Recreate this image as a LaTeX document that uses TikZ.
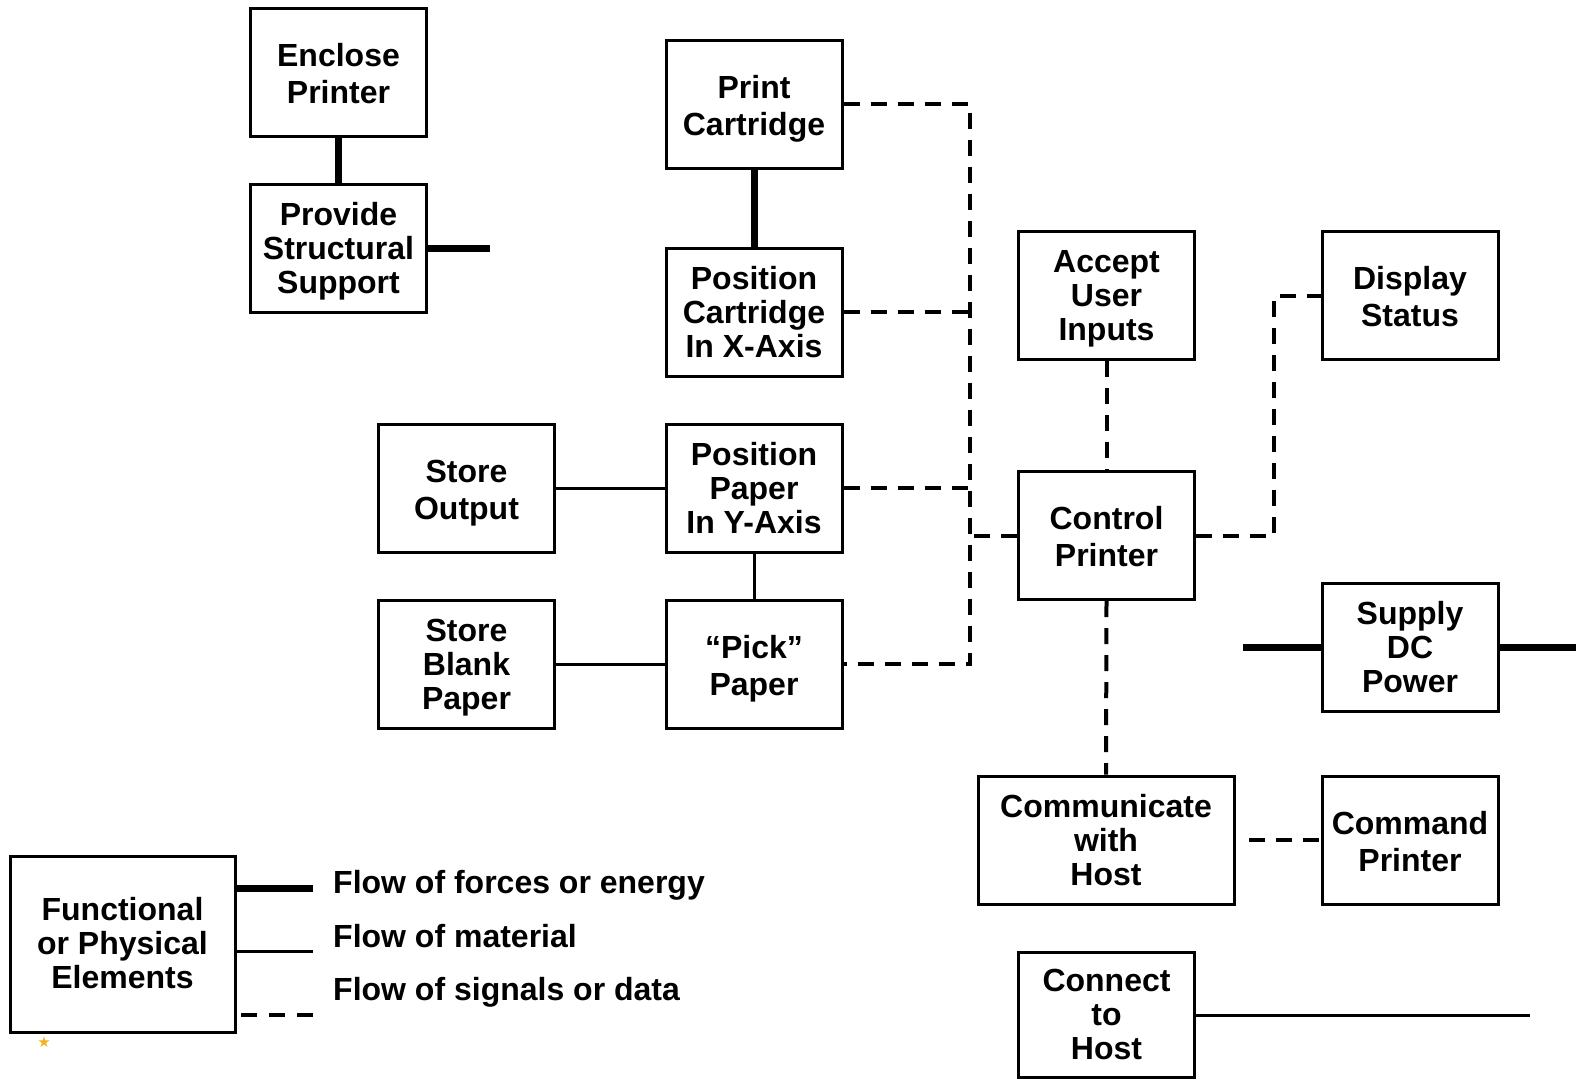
\documentclass[tikz,border=0pt]{standalone}
\usepackage{fontspec}
\setmainfont{Liberation Sans}
\newfontfamily\symfont{DejaVu Sans}
\definecolor{stargold}{RGB}{245,180,30}
\begin{document}
\begin{tikzpicture}[x=1pt,y=-1pt,
  fbox/.style={draw,line width=3pt,inner sep=0pt,align=center,
    minimum width=176pt,minimum height=128pt,
    font=\fontsize{32}{34}\selectfont\bfseries,
    text height=97pt,text depth=7pt},
  two/.style={font=\fontsize{32}{37}\selectfont\bfseries,
    text height=69pt,text depth=7pt},
  energy/.style={line width=7pt},
  material/.style={line width=3pt},
  sig/.style={line width=4pt,dash pattern=on 16pt off 11pt},
  legtext/.style={anchor=west,inner sep=0pt,font=\fontsize{32}{37}\selectfont\bfseries}]

\fill[white] (0,0) rectangle (1576,1079);
\useasboundingbox (0,0) rectangle (1576,1079);

% functional elements
\node[fbox,two] (enc)  at (338.5,72)  {Enclose\\Printer};
\node[fbox] (pss) at (338.5,248) {Provide\\Structural\\Support};
\node[fbox,two] (pc)   at (754,104)   {Print\\Cartridge};
\node[fbox] (pcx) at (754,312) {Position\\Cartridge\\In X-Axis};
\node[fbox] (ppy) at (754,488) {Position\\Paper\\In Y-Axis};
\node[fbox,two] (pick) at (754,664)   {``Pick''\\Paper};
\node[fbox,two] (so)   at (466.5,488) {Store\\Output};
\node[fbox] (sbp) at (466.5,664) {Store\\Blank\\Paper};
\node[fbox] (aui) at (1106.5,295.5) {Accept\\User\\Inputs};
\node[fbox,two] (cp)   at (1106.5,535.5) {Control\\Printer};
\node[fbox,two] (ds)   at (1410,295.5) {Display\\Status};
\node[fbox] (sdc) at (1410,647.5) {Supply\\DC\\Power};
\node[fbox,minimum width=256pt] (cwh) at (1106,840) {Communicate\\with\\Host};
\node[fbox,two] (cmd)  at (1410,840)  {Command\\Printer};
\node[fbox,minimum height=125pt] (cth) at (1106.5,1014.5) {Connect\\to\\Host};

% helper coordinates
\coordinate (busx) at (970,0);
\coordinate (dsx) at (1274,0);
\coordinate (pssend) at (490,248);
\coordinate (sdcin) at (1243,647.5);
\coordinate (sdcout) at (1576,647.5);
\coordinate (cmdin) at (1249,840);
\coordinate (cthend) at (1530,1015);

% forces / energy
\draw[energy] (enc.south) -- (pss.north);
\draw[energy] (pss.east) -- (pssend);
\draw[energy] (pc.south) -- (pcx.north);
\draw[energy] (sdcin) -- (sdc.west);
\draw[energy] (sdc.east) -- (sdcout);

% material
\draw[material] (so.east) -- (ppy.west);
\draw[material] (sbp.east) -- (pick.west);
\draw[material] (ppy.south) -- (pick.north);
\draw[material] (cth.east |- cthend) -- (cthend);

% signals / data
\draw[sig] (pc.east) -- (pc.east -| busx) |- (pick.east);
\draw[sig] (pcx.east) -- (pcx.east -| busx);
\draw[sig] (ppy.east) -- (ppy.east -| busx);
\draw[sig] (cp.west) -- (cp.west -| busx);
\draw[sig] (aui.south) -- (cp.north);
\draw[sig] (cp.south) -- (cwh.north);
\draw[sig] (cp.east) -- (cp.east -| dsx) |- (ds.west);
\draw[sig] (cmdin) -- (cmd.west);

% legend
\node[fbox,minimum width=225pt,minimum height=176pt,text height=95pt] (leg) at (122.5,944)
  {Functional\\or Physical\\Elements};
\coordinate (legA) at (313,888);
\coordinate (legB) at (313,951);
\coordinate (legC) at (313,1015);
\coordinate (legCs) at (241,1015);
\draw[energy] (leg.east |- legA) -- (legA);
\draw[material] (leg.east |- legB) -- (legB);
\draw[line width=4pt,dash pattern=on 16pt off 12pt] (legCs) -- (legC);
\node[legtext] (lt1) at (333,885) {Flow of forces or energy};
\node[legtext] (lt2) at (333,936) {Flow of material};
\node[legtext] (lt3) at (333,992) {Flow of signals or data};

% small mark below the legend
\node[text=stargold,inner sep=0pt,font=\symfont\fontsize{15}{15}\selectfont] (star) at (44,1042) {★};
\end{tikzpicture}
\end{document}
